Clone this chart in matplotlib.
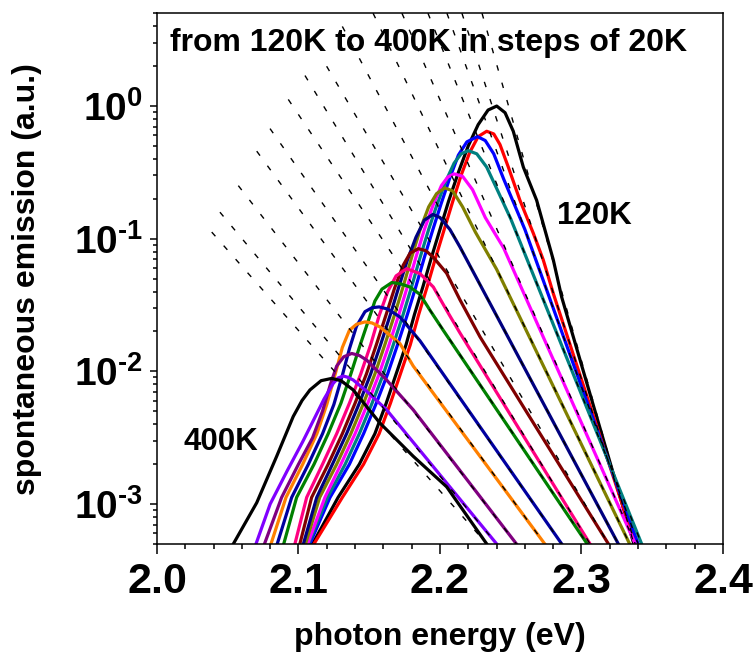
import numpy as np
import matplotlib
matplotlib.use("Agg")
import matplotlib.pyplot as plt
from matplotlib import font_manager
from matplotlib.ticker import FixedLocator, FixedFormatter, LogLocator, MultipleLocator, NullFormatter

# photon energy (eV) and log10 of the emission for each temperature
e_120 = [2.110, 2.128, 2.143, 2.154, 2.162, 2.169, 2.176, 2.182, 2.188, 2.194, 2.200, 2.206, 2.213, 2.220, 2.227, 2.234, 2.2401,
         2.246, 2.2518, 2.2589, 2.2683, 2.2801, 2.286, 2.337]
lg_120 = [-3.30, -2.95, -2.70, -2.47, -2.24, -2.02, -1.80, -1.57, -1.36, -1.14, -0.93, -0.72, -0.50, -0.30, -0.14, -0.03, 0.00,
          -0.05, -0.19, -0.46, -0.71, -1.16, -1.44, -3.30]
e_140 = [2.111, 2.131, 2.146, 2.157, 2.165, 2.172, 2.179, 2.185, 2.191, 2.197, 2.203, 2.209, 2.215, 2.221, 2.227, 2.233,
         2.238, 2.2424, 2.2483, 2.2565, 2.266, 2.273, 2.280, 2.338]
lg_140 = [-3.30, -2.95, -2.70, -2.47, -2.24, -2.02, -1.80, -1.57, -1.36, -1.14, -0.93, -0.72, -0.52, -0.35, -0.23, -0.19,
          -0.21, -0.29, -0.46, -0.71, -0.96, -1.16, -1.41, -3.30]
e_160 = [2.108, 2.1223, 2.136, 2.146, 2.155, 2.163, 2.170, 2.177, 2.183, 2.189, 2.195, 2.201, 2.207, 2.213, 2.219, 2.2265,
         2.232, 2.238, 2.245, 2.260, 2.340]
lg_160 = [-3.30, -2.95, -2.70, -2.47, -2.24, -2.02, -1.80, -1.57, -1.36, -1.14, -0.93, -0.73, -0.54, -0.37, -0.27, -0.23,
          -0.26, -0.36, -0.55, -0.93, -3.30]
e_180 = [2.107, 2.1205, 2.133, 2.143, 2.152, 2.160, 2.167, 2.174, 2.180, 2.186, 2.192, 2.198, 2.204, 2.210, 2.215, 2.220,
         2.226, 2.233, 2.240, 2.250, 2.3425]
lg_180 = [-3.30, -2.95, -2.70, -2.47, -2.24, -2.02, -1.80, -1.57, -1.36, -1.14, -0.93, -0.74, -0.57, -0.43, -0.36, -0.336,
          -0.36, -0.46, -0.62, -0.85, -3.30]
e_200 = [2.1065, 2.1187, 2.130, 2.140, 2.149, 2.157, 2.164, 2.171, 2.177, 2.183, 2.189, 2.195, 2.201, 2.2055, 2.210,
         2.216, 2.223, 2.232, 2.245, 2.338]
lg_200 = [-3.30, -2.95, -2.70, -2.47, -2.24, -2.02, -1.80, -1.57, -1.36, -1.14, -0.93, -0.75, -0.60, -0.535, -0.511,
          -0.53, -0.63, -0.84, -1.07, -3.30]
e_220 = [2.105, 2.115, 2.127, 2.137, 2.146, 2.154, 2.161, 2.168, 2.174, 2.180, 2.186, 2.192, 2.1976, 2.2035,
         2.209, 2.216, 2.225, 2.240, 2.334]
lg_220 = [-3.30, -2.95, -2.70, -2.47, -2.24, -2.02, -1.80, -1.57, -1.36, -1.14, -0.93, -0.76, -0.66, -0.617,
          -0.64, -0.76, -0.95, -1.23, -3.30]
e_240 = [2.1035, 2.1129, 2.124, 2.134, 2.143, 2.151, 2.158, 2.165, 2.171, 2.177, 2.183, 2.189, 2.195,
         2.200, 2.207, 2.214, 2.326]
lg_240 = [-3.30, -2.95, -2.70, -2.47, -2.24, -2.02, -1.80, -1.57, -1.36, -1.16, -0.99, -0.86, -0.817,
          -0.84, -0.93, -1.06, -3.30]
e_260 = [2.101, 2.1093, 2.121, 2.131, 2.140, 2.148, 2.155, 2.162, 2.168, 2.174, 2.1788, 2.1847,
         2.190, 2.1953, 2.2047, 2.2141, 2.2283, 2.319]
lg_260 = [-3.30, -2.95, -2.70, -2.47, -2.24, -2.02, -1.80, -1.57, -1.37, -1.20, -1.11, -1.075,
          -1.09, -1.14, -1.26, -1.46, -1.74, -3.30]
e_280 = [2.0975, 2.1058, 2.117, 2.127, 2.136, 2.144, 2.151, 2.157, 2.163, 2.169, 2.1765,
         2.1859, 2.1953, 2.2047, 2.2141, 2.306]
lg_280 = [-3.30, -2.95, -2.70, -2.47, -2.24, -2.02, -1.80, -1.58, -1.40, -1.28, -1.226,
          -1.263, -1.364, -1.54, -1.71, -3.30]
e_300 = [2.0896, 2.0987, 2.111, 2.121, 2.130, 2.137, 2.143, 2.149, 2.154, 2.159, 2.166,
         2.172, 2.1788, 2.1859, 2.193, 2.2023, 2.304]
lg_300 = [-3.30, -2.95, -2.70, -2.47, -2.24, -2.02, -1.82, -1.63, -1.47, -1.38, -1.33,
          -1.34, -1.364, -1.42, -1.54, -1.69, -3.30]
e_320 = [2.085, 2.0952, 2.107, 2.117, 2.125, 2.131, 2.136, 2.141, 2.147, 2.152, 2.157,
         2.163, 2.1717, 2.1859, 2.286]
lg_320 = [-3.30, -2.95, -2.70, -2.47, -2.25, -2.03, -1.83, -1.66, -1.55, -1.52, -1.514,
          -1.53, -1.59, -1.77, -3.30]
e_340 = [2.0806, 2.0912, 2.103, 2.113, 2.120, 2.126, 2.131, 2.136, 2.141, 2.147,
         2.152, 2.1576, 2.1717, 2.1811, 2.274]
lg_340 = [-3.30, -2.95, -2.70, -2.47, -2.25, -2.02, -1.82, -1.69, -1.645, -1.627,
          -1.635, -1.665, -1.79, -1.96, -3.30]
e_360 = [2.076, 2.0881, 2.100, 2.110, 2.117, 2.1225, 2.127, 2.132, 2.1376,
         2.143, 2.1482, 2.1623, 2.1811, 2.254]
lg_360 = [-3.30, -2.95, -2.70, -2.50, -2.30, -2.10, -1.96, -1.89, -1.865,
          -1.88, -1.915, -2.065, -2.29, -3.30]
e_380 = [2.070, 2.080, 2.092, 2.103, 2.111, 2.118, 2.1246, 2.128, 2.1317,
         2.135, 2.1387, 2.1482, 2.1623, 2.240]
lg_380 = [-3.30, -3.00, -2.75, -2.53, -2.36, -2.21, -2.09, -2.05, -2.035,
          -2.045, -2.065, -2.15, -2.29, -3.30]
e_400 = [2.054, 2.0705, 2.0846, 2.0963, 2.1025, 2.1081, 2.116, 2.1235,
         2.130, 2.1387, 2.1576, 2.1811, 2.2047, 2.233]
lg_400 = [-3.30, -2.99, -2.64, -2.34, -2.22, -2.14, -2.07, -2.053,
          -2.07, -2.14, -2.39, -2.64, -2.87, -3.30]

temps = [120, 140, 160, 180, 200, 220, 240, 260, 280, 300, 320, 340, 360, 380, 400]
colors = ['#000000', '#ff0000', '#0000ff', '#008080', '#ff00ff', '#808000', '#000080', '#800000',
          '#ff0080', '#008000', '#0000a0', '#ff8000', '#800080', '#8000ff', '#000000']

# Boltzmann tail fits: start and end of each dashed line (energy, log10 emission)
fit_e0 = [2.2297, 2.2155, 2.2049, 2.1915, 2.1731, 2.1527, 2.131, 2.1199, 2.1046, 2.0928, 2.0799, 2.0705, 2.0575, 2.0445, 2.0387]
fit_lg0 = [0.70, 0.70, 0.70, 0.70, 0.70, 0.70, 0.60, 0.30, 0.23, 0.05, -0.17, -0.34, -0.60, -0.80, -0.95]
fit_e1 = [2.337, 2.338, 2.340, 2.3425, 2.338, 2.334, 2.326, 2.319, 2.306, 2.304, 2.286, 2.274, 2.254, 2.240, 2.233]
fit_lg1 = [-3.30] * 15

xticks = [2.0, 2.1, 2.2, 2.3, 2.4]
xtick_labels = ['2.0', '2.1', '2.2', '2.3', '2.4']
yticks = [1e-3, 1e-2, 1e-1, 1e0]
ytick_labels = [r'$\mathbf{10^{\text{-}3}}$', r'$\mathbf{10^{\text{-}2}}$', r'$\mathbf{10^{\text{-}1}}$', r'$\mathbf{10^{0}}$']

energies = [e_120, e_140, e_160, e_180, e_200, e_220, e_240, e_260, e_280, e_300, e_320, e_340, e_360, e_380, e_400]
logs = [lg_120, lg_140, lg_160, lg_180, lg_200, lg_220, lg_240, lg_260, lg_280, lg_300, lg_320, lg_340, lg_360, lg_380, lg_400]

avail = {f.name for f in font_manager.fontManager.ttflist}
base = 'Liberation Sans' if 'Liberation Sans' in avail else 'DejaVu Sans'
narrow = 'Liberation Sans Narrow' if 'Liberation Sans Narrow' in avail else base

plt.rcParams['font.family'] = [base, 'DejaVu Sans']
plt.rcParams['font.weight'] = 'bold'
plt.rcParams['mathtext.fontset'] = 'custom'
plt.rcParams['mathtext.rm'] = base + ':bold'
plt.rcParams['mathtext.bf'] = base + ':bold'
plt.rcParams['mathtext.it'] = base + ':bold'

fig = plt.figure(figsize=(7.55, 6.6), dpi=100)
ax = fig.add_axes([0.2079, 0.1758, 0.7497, 0.8040])

for e, lg, c in zip(energies, logs, colors):
    ax.plot(e, np.power(10.0, lg), color=c, lw=2.3, solid_joinstyle='round', zorder=2)

for a0, b0, a1, b1 in zip(fit_e0, fit_lg0, fit_e1, fit_lg1):
    ax.plot([a0, a1], [10 ** b0, 10 ** b1], color='black', lw=1.0, dashes=(4, 9), zorder=3)

ax.set_yscale('log')
ax.set_xlim(2.0, 2.4)
ax.set_ylim(5e-4, 5)

ax.xaxis.set_major_locator(FixedLocator(xticks))
ax.xaxis.set_major_formatter(FixedFormatter(xtick_labels))
ax.xaxis.set_minor_locator(MultipleLocator(0.02))
ax.yaxis.set_major_locator(FixedLocator(yticks))
ax.yaxis.set_major_formatter(FixedFormatter(ytick_labels))
ax.yaxis.set_minor_locator(LogLocator(base=10, subs=np.arange(2, 10)))
ax.yaxis.set_minor_formatter(NullFormatter())

ax.tick_params(axis='x', which='major', direction='out', length=7, width=1.1, pad=6, labelsize=31)
ax.tick_params(axis='x', which='minor', direction='out', length=3.5, width=1.1)
ax.tick_params(axis='y', which='major', direction='out', length=5, width=1.1, pad=5, labelsize=28)
ax.tick_params(axis='y', which='minor', direction='out', length=3, width=1.1)
for lab in ax.get_xticklabels():
    lab.set_family([narrow, base])
    lab.set_fontweight('bold')

for s in ax.spines.values():
    s.set_linewidth(1.1)

ax.set_xlabel('photon energy (eV)', fontsize=23, fontweight='bold', va='top')
ax.xaxis.set_label_coords(0.5, -0.147)
ax.set_ylabel('spontaneous emission (a.u.)', fontsize=23, fontweight='bold')
ax.yaxis.set_label_coords(-0.203, 0.5)

ax.text(0.48, 0.945, 'from 120K to 400K in steps of 20K', transform=ax.transAxes,
        ha='center', va='center', fontsize=23, fontweight='bold')
ax.text(0.772, 0.618, '120K', transform=ax.transAxes, ha='center', va='center', fontsize=22.5, fontweight='bold')
ax.text(0.113, 0.193, '400K', transform=ax.transAxes, ha='center', va='center', fontsize=22.5, fontweight='bold')

fig.savefig('out.png', dpi=100)
